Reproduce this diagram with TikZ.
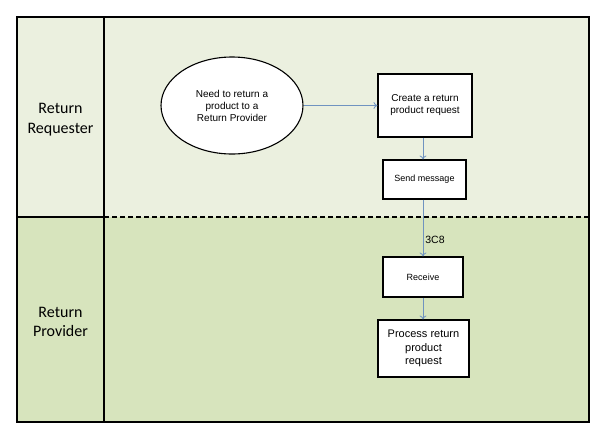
\documentclass[tikz,border=0pt]{standalone}
\usepackage{fontspec}
\setmainfont{Liberation Sans}
\newfontfamily\lanefont{Carlito}
\usetikzlibrary{shapes.geometric,arrows.meta}
\definecolor{topfill}{HTML}{EBF0DF}
\definecolor{botfill}{HTML}{D7E4BD}
\definecolor{conn}{HTML}{6F93C0}
\tikzset{
  procbox/.style={draw=black,line width=1.1pt,fill=white,align=center,inner sep=0pt},
  lanelabel/.style={align=center,font=\lanefont\fontsize{16}{19.5}\selectfont},
  flow/.style={draw=conn,line width=0.8pt,-{To[length=4pt,width=7pt]}},
}
\begin{document}
\begin{tikzpicture}[x=1pt,y=-1pt]
\useasboundingbox (0,0) rectangle (600,437);
\fill[white] (0,0) rectangle (600,437);
% lanes
\fill[topfill] (17,17) rectangle (589,217);
\fill[botfill] (17,217) rectangle (589,422);
\draw[line width=1.5pt] (17,217) -- (104,217);
\draw[line width=1.5pt,dash pattern=on 5pt off 3pt] (104,217) -- (589,217);
\draw[line width=1.5pt] (104,17) -- (104,422);
\draw[line width=1.8pt] (17,17) rectangle (589,422);
\node[lanelabel] (l1) at (60.5,119.5) {Return\\Requester};
\node[lanelabel] (l2) at (60.5,322) {Return\\Provider};
% nodes
\node[ellipse,draw=black,line width=1.1pt,fill=white,minimum width=142pt,minimum height=97pt,inner sep=0pt,align=center,font=\fontsize{10}{12}\selectfont] (need) at (232,105.5) {Need to return a\\product to a\\Return Provider};
\node[procbox,minimum width=94pt,minimum height=63pt,font=\fontsize{10}{12}\selectfont] (create) at (425,105.5) {Create a return\\product request};
\node[procbox,minimum width=83pt,minimum height=39pt,font=\fontsize{9}{11}\selectfont] (send) at (424.5,179.5) {Send message};
\node[procbox,minimum width=80pt,minimum height=40pt,font=\fontsize{9}{11}\selectfont] (recv) at (423,277) {Receive};
\node[procbox,minimum width=91pt,minimum height=57pt,font=\fontsize{11}{13.5}\selectfont] (proc) at (423.5,348.5) {Process return\\product\\request};
% connectors
\draw[flow] (need) -- (create);
\draw[flow] (create.south -| send.north) ++(-1.5,0) coordinate (c1) -- (c1 |- send.north);
\draw[flow] (send.south -| recv.north) coordinate (c2) -- node[right,font=\fontsize{10.5}{12}\selectfont,pos=0.7,inner sep=2pt] (lbl) {3C8} (recv.north);
\draw[flow] (recv) -- (recv |- proc.north);
\end{tikzpicture}
\end{document}
